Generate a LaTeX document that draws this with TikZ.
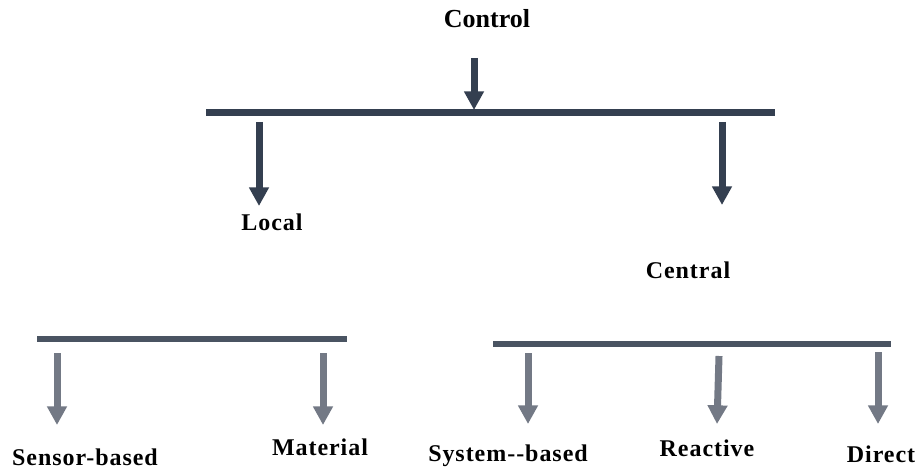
\documentclass[tikz,border=0pt]{standalone}
\usepackage{fontspec}
\setmainfont{Liberation Serif}
\usetikzlibrary{arrows.meta}

\definecolor{slatedark}{RGB}{52,63,80}
\definecolor{slatemid}{RGB}{74,84,98}
\definecolor{slategrey}{RGB}{115,121,133}

\tikzset{
  txt/.style={font=\bfseries\fontsize{18}{20}\selectfont\addfontfeature{LetterSpace=4}, inner sep=0pt, anchor=base},
  bar/.style={line width=5.25pt},
  down/.style={line width=5.25pt, -{Triangle[width=14.25pt,length=14pt]}},
}

\begin{document}
\begin{tikzpicture}[x=0.75pt, y=-0.75pt]
  \useasboundingbox (0,0) rectangle (923,470);

  % labels
  \node[txt, font=\bfseries\fontsize{19.5}{22}\selectfont] (control) at (487,28) {Control};
  \node[txt] (local) at (272,230) {Local};
  \node[txt] (central) at (688,278) {Central};
  \node[txt] (sensor) at (85,465) {Sensor-based};
  \node[txt] (material) at (320,455) {Material};
  \node[txt] (system) at (508,461) {System-{}-based};
  \node[txt] (reactive) at (707,456) {Reactive};
  \node[txt] (direct) at (881,462) {Direct};

  % bars
  \coordinate (topL) at (206,113);
  \coordinate (topR) at (775,113);
  \coordinate (locL) at (37,339);
  \coordinate (locR) at (347,339);
  \coordinate (cenL) at (493,344);
  \coordinate (cenR) at (891,344);
  \draw[bar, slatedark] (topL) -- (topR);
  \draw[bar, slatemid, line width=4.5pt] (locL) -- (locR);
  \draw[bar, slatemid, line width=4.5pt] (cenL) -- (cenR);

  % arrow ends
  \coordinate (c0) at (474,58);  \coordinate (c1) at (474,110);
  \coordinate (l0) at (259,122); \coordinate (l1) at (259,206);
  \coordinate (r0) at (722,122); \coordinate (r1) at (722,205);
  \coordinate (s0) at (57,353);  \coordinate (s1) at (57,425);
  \coordinate (m0) at (323,353); \coordinate (m1) at (323,425);
  \coordinate (y0) at (528,353); \coordinate (y1) at (528,424);
  \coordinate (a0) at (719,356); \coordinate (a1) at (717,424);
  \coordinate (d0) at (878,352); \coordinate (d1) at (878,424);

  \path[down, slatedark]
    (c0) edge (c1)
    (l0) edge (l1)
    (r0) edge (r1);
  \path[down, slategrey]
    (s0) edge (s1)
    (m0) edge (m1)
    (y0) edge (y1)
    (a0) edge (a1)
    (d0) edge (d1);
\end{tikzpicture}
\end{document}
